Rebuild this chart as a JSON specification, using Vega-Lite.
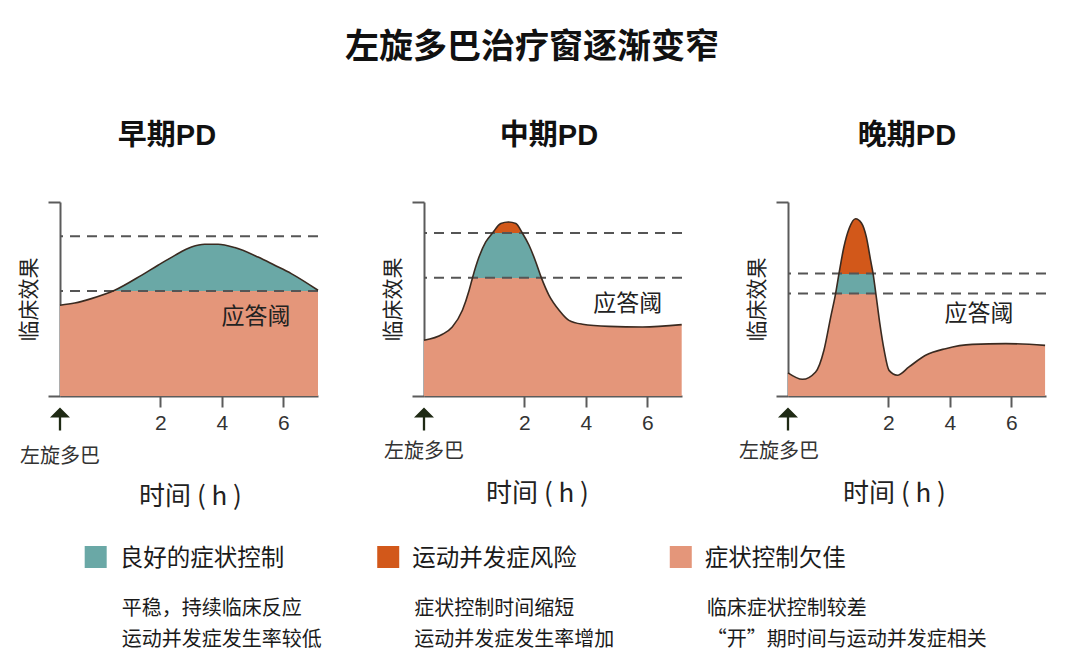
{
  "$schema": "https://vega.github.io/schema/vega-lite/v6.json",
  "padding": {"left": 18, "top": 31, "right": 10, "bottom": 5},
  "title": {"text": "左旋多巴治疗窗逐渐变窄", "fontSize": 34, "fontWeight": "bold", "font": "Noto Sans CJK SC", "color": "#111", "anchor": "start", "frame": "group", "dx": 285, "offset": 57},
  "datasets": {
    "curve_early": [
      {"t": -1.27, "effect": 4.68}, {"t": -0.79, "effect": 4.79}, {"t": -0.25, "effect": 5.02},
      {"t": 0.51, "effect": 5.45}, {"t": 1.38, "effect": 6.22}, {"t": 1.92, "effect": 6.74},
      {"t": 2.47, "effect": 7.25}, {"t": 3.01, "effect": 7.68}, {"t": 3.44, "effect": 7.82},
      {"t": 3.88, "effect": 7.82}, {"t": 4.42, "effect": 7.65}, {"t": 5.18, "effect": 7.16},
      {"t": 5.72, "effect": 6.74}, {"t": 6.26, "effect": 6.31}, {"t": 7.13, "effect": 5.45}
    ],
    "curve_mid": [
      {"t": -1.27, "effect": 2.87}, {"t": -0.67, "effect": 3.18}, {"t": -0.35, "effect": 3.56},
      {"t": -0.02, "effect": 4.42}, {"t": 0.2, "effect": 5.45}, {"t": 0.31, "effect": 6.1},
      {"t": 0.52, "effect": 7.16}, {"t": 0.74, "effect": 7.94}, {"t": 0.96, "effect": 8.4},
      {"t": 1.23, "effect": 8.89}, {"t": 1.48, "effect": 8.97}, {"t": 1.72, "effect": 8.89},
      {"t": 1.93, "effect": 8.4}, {"t": 2.15, "effect": 7.77}, {"t": 2.37, "effect": 6.91},
      {"t": 2.55, "effect": 6.1}, {"t": 2.8, "effect": 5.19}, {"t": 3.13, "effect": 4.42},
      {"t": 3.45, "effect": 3.9}, {"t": 3.89, "effect": 3.7}, {"t": 4.75, "effect": 3.59},
      {"t": 5.84, "effect": 3.56}, {"t": 7.12, "effect": 3.68}
    ],
    "curve_late": [
      {"t": -1.27, "effect": 1.19}, {"t": -0.8, "effect": 0.86}, {"t": -0.37, "effect": 1.24},
      {"t": -0.1, "effect": 2.36}, {"t": 0.12, "effect": 4.07}, {"t": 0.28, "effect": 5.28},
      {"t": 0.39, "effect": 6.31}, {"t": 0.55, "effect": 7.68}, {"t": 0.72, "effect": 8.63},
      {"t": 0.93, "effect": 9.14}, {"t": 1.12, "effect": 8.92}, {"t": 1.28, "effect": 8.2},
      {"t": 1.42, "effect": 6.99}, {"t": 1.5, "effect": 6.31}, {"t": 1.59, "effect": 5.28},
      {"t": 1.72, "effect": 3.73}, {"t": 1.86, "effect": 2.36}, {"t": 2.02, "effect": 1.32},
      {"t": 2.29, "effect": 1.07}, {"t": 2.67, "effect": 1.5}, {"t": 3.21, "effect": 2.1},
      {"t": 3.86, "effect": 2.44}, {"t": 4.73, "effect": 2.66}, {"t": 5.82, "effect": 2.7},
      {"t": 7.1, "effect": 2.61}
    ],
    "thr_early": [{"level": "上限", "effect": 8.23}, {"level": "应答阈", "effect": 5.41}],
    "thr_mid": [{"level": "上限", "effect": 8.4}, {"level": "应答阈", "effect": 6.1}],
    "thr_late": [{"level": "上限", "effect": 6.31}, {"level": "应答阈", "effect": 5.28}],
    "dose": [{"t": -1.27, "event": "左旋多巴"}],
    "legend": [
      {"item": "良好的症状控制", "note1": "平稳，持续临床反应", "note2": "运动并发症发生率较低"},
      {"item": "运动并发症风险", "note1": "症状控制时间缩短", "note2": "运动并发症发生率增加"},
      {"item": "症状控制欠佳", "note1": "临床症状控制较差", "note2": "“开”期时间与运动并发症相关"}
    ]
  },
  "vconcat": [
    {
      "bounds": "flush",
      "spacing": 106,
      "hconcat": [
        {
          "width": 258, "height": 194,
          "title": {"text": "早期PD", "dx": -22},
          "layer": [
            {
              "data": {"name": "curve_early"},
              "mark": {"type": "area", "interpolate": "monotone",
                "fill": {"gradient": "linear", "x1": 0, "y1": 0, "x2": 0, "y2": 1,
                  "stops": [{"offset": 0, "color": "#6aa8a6"}, {"offset": 0.308, "color": "#6aa8a6"}, {"offset": 0.308, "color": "#e4967a"}, {"offset": 1, "color": "#e4967a"}]}},
              "encoding": {
                "x": {"field": "t", "type": "quantitative", "title": "时间  (  h  )",
                  "scale": {"domain": [-1.27, 7.13], "nice": false, "zero": false},
                  "axis": {"values": [2, 4, 6], "tickSize": 11, "labelFont": "Liberation Sans", "labelFontSize": 21, "labelPadding": 5, "titleFontSize": 26, "titlePadding": 50, "titleX": 130}},
                "y": {"field": "effect", "type": "quantitative", "title": "临床效果",
                  "scale": {"domain": [0, 10], "nice": false},
                  "axis": {"values": [0, 10], "tickSize": 12, "labels": false, "titleFontSize": 21, "titlePadding": 8}}
              }
            },
            {
              "data": {"name": "thr_early"},
              "mark": {"type": "rule", "strokeDash": [10, 7], "strokeWidth": 2, "color": "#555"},
              "encoding": {"y": {"field": "effect", "type": "quantitative", "title": "临床效果"}}
            },
            {
              "data": {"name": "curve_early"},
              "mark": {"type": "line", "interpolate": "monotone", "color": "#3a2a20", "strokeWidth": 1.6},
              "encoding": {"x": {"field": "t", "type": "quantitative", "title": "时间  (  h  )"}, "y": {"field": "effect", "type": "quantitative", "title": "临床效果"}}
            },
            {
              "data": {"values": [{"label": "应答阈"}]},
              "mark": {"type": "text", "fontSize": 23, "color": "#222"},
              "encoding": {"x": {"datum": 5.11, "type": "quantitative"}, "y": {"datum": 4.07, "type": "quantitative"}, "text": {"field": "label"}}
            },
            {
              "data": {"name": "dose"},
              "mark": {"type": "point", "shape": "M0,-1L0.87,-0.13L0.1,-0.13L0.1,1L-0.1,1L-0.1,-0.13L-0.87,-0.13Z", "size": 529, "filled": true, "opacity": 1, "color": "#1f2a14", "strokeWidth": 0, "yOffset": 23},
              "encoding": {"x": {"field": "t", "type": "quantitative", "title": "时间  (  h  )"}, "y": {"datum": 0, "type": "quantitative"}}
            },
            {
              "data": {"name": "dose"},
              "mark": {"type": "text", "fontSize": 20, "dy": 61, "color": "#333"},
              "encoding": {"x": {"field": "t", "type": "quantitative", "title": "时间  (  h  )"}, "y": {"datum": 0, "type": "quantitative"}, "text": {"field": "event"}}
            }
          ]
        },
        {
          "width": 258, "height": 194,
          "title": {"text": "中期PD", "dx": -4},
          "layer": [
            {
              "data": {"name": "curve_mid"},
              "mark": {"type": "area", "interpolate": "monotone",
                "fill": {"gradient": "linear", "x1": 0, "y1": 0, "x2": 0, "y2": 1,
                  "stops": [{"offset": 0, "color": "#d2581a"}, {"offset": 0.0635, "color": "#d2581a"}, {"offset": 0.0635, "color": "#6aa8a6"}, {"offset": 0.32, "color": "#6aa8a6"}, {"offset": 0.32, "color": "#e4967a"}, {"offset": 1, "color": "#e4967a"}]}},
              "encoding": {
                "x": {"field": "t", "type": "quantitative", "title": "时间  (  h  )",
                  "scale": {"domain": [-1.27, 7.13], "nice": false, "zero": false},
                  "axis": {"values": [2, 4, 6], "tickSize": 11, "labelFont": "Liberation Sans", "labelFontSize": 21, "labelPadding": 5, "titleFontSize": 26, "titlePadding": 47, "titleX": 113}},
                "y": {"field": "effect", "type": "quantitative", "title": "临床效果",
                  "scale": {"domain": [0, 10], "nice": false},
                  "axis": {"values": [0, 10], "tickSize": 12, "labels": false, "titleFontSize": 21, "titlePadding": 8}}
              }
            },
            {
              "data": {"name": "thr_mid"},
              "mark": {"type": "rule", "strokeDash": [10, 7], "strokeWidth": 2, "color": "#555"},
              "encoding": {"y": {"field": "effect", "type": "quantitative", "title": "临床效果"}}
            },
            {
              "data": {"name": "curve_mid"},
              "mark": {"type": "line", "interpolate": "monotone", "color": "#3a2a20", "strokeWidth": 1.6},
              "encoding": {"x": {"field": "t", "type": "quantitative", "title": "时间  (  h  )"}, "y": {"field": "effect", "type": "quantitative", "title": "临床效果"}}
            },
            {
              "data": {"values": [{"label": "应答阈"}]},
              "mark": {"type": "text", "fontSize": 23, "color": "#222"},
              "encoding": {"x": {"datum": 5.36, "type": "quantitative"}, "y": {"datum": 4.73, "type": "quantitative"}, "text": {"field": "label"}}
            },
            {
              "data": {"name": "dose"},
              "mark": {"type": "point", "shape": "M0,-1L0.87,-0.13L0.1,-0.13L0.1,1L-0.1,1L-0.1,-0.13L-0.87,-0.13Z", "size": 529, "filled": true, "opacity": 1, "color": "#1f2a14", "strokeWidth": 0, "yOffset": 23},
              "encoding": {"x": {"field": "t", "type": "quantitative", "title": "时间  (  h  )"}, "y": {"datum": 0, "type": "quantitative"}}
            },
            {
              "data": {"name": "dose"},
              "mark": {"type": "text", "fontSize": 20, "dy": 56, "color": "#333"},
              "encoding": {"x": {"field": "t", "type": "quantitative", "title": "时间  (  h  )"}, "y": {"datum": 0, "type": "quantitative"}, "text": {"field": "event"}}
            }
          ]
        },
        {
          "width": 258, "height": 194,
          "title": {"text": "晚期PD", "dx": -10},
          "layer": [
            {
              "data": {"name": "curve_late"},
              "mark": {"type": "area", "interpolate": "monotone",
                "fill": {"gradient": "linear", "x1": 0, "y1": 0, "x2": 0, "y2": 1,
                  "stops": [{"offset": 0, "color": "#d2581a"}, {"offset": 0.3096, "color": "#d2581a"}, {"offset": 0.3096, "color": "#6aa8a6"}, {"offset": 0.4223, "color": "#6aa8a6"}, {"offset": 0.4223, "color": "#e4967a"}, {"offset": 1, "color": "#e4967a"}]}},
              "encoding": {
                "x": {"field": "t", "type": "quantitative", "title": "时间  (  h  )",
                  "scale": {"domain": [-1.27, 7.13], "nice": false, "zero": false},
                  "axis": {"values": [2, 4, 6], "tickSize": 11, "labelFont": "Liberation Sans", "labelFontSize": 21, "labelPadding": 5, "titleFontSize": 26, "titlePadding": 47, "titleX": 106}},
                "y": {"field": "effect", "type": "quantitative", "title": "临床效果",
                  "scale": {"domain": [0, 10], "nice": false},
                  "axis": {"values": [0, 10], "tickSize": 12, "labels": false, "titleFontSize": 21, "titlePadding": 8}}
              }
            },
            {
              "data": {"name": "thr_late"},
              "mark": {"type": "rule", "strokeDash": [10, 7], "strokeWidth": 2, "color": "#555"},
              "encoding": {"y": {"field": "effect", "type": "quantitative", "title": "临床效果"}}
            },
            {
              "data": {"name": "curve_late"},
              "mark": {"type": "line", "interpolate": "monotone", "color": "#3a2a20", "strokeWidth": 1.6},
              "encoding": {"x": {"field": "t", "type": "quantitative", "title": "时间  (  h  )"}, "y": {"field": "effect", "type": "quantitative", "title": "临床效果"}}
            },
            {
              "data": {"values": [{"label": "应答阈"}]},
              "mark": {"type": "text", "fontSize": 23, "color": "#222"},
              "encoding": {"x": {"datum": 4.95, "type": "quantitative"}, "y": {"datum": 4.21, "type": "quantitative"}, "text": {"field": "label"}}
            },
            {
              "data": {"name": "dose"},
              "mark": {"type": "point", "shape": "M0,-1L0.87,-0.13L0.1,-0.13L0.1,1L-0.1,1L-0.1,-0.13L-0.87,-0.13Z", "size": 529, "filled": true, "opacity": 1, "color": "#1f2a14", "strokeWidth": 0, "yOffset": 23},
              "encoding": {"x": {"field": "t", "type": "quantitative", "title": "时间  (  h  )"}, "y": {"datum": 0, "type": "quantitative"}}
            },
            {
              "data": {"name": "dose"},
              "mark": {"type": "text", "fontSize": 20, "dy": 56, "dx": -9, "color": "#333"},
              "encoding": {"x": {"field": "t", "type": "quantitative", "title": "时间  (  h  )"}, "y": {"datum": 0, "type": "quantitative"}, "text": {"field": "event"}}
            }
          ]
        }
      ]
    },
    {
      "width": 927, "height": 100,
      "data": {"name": "legend"},
      "encoding": {
        "x": {"field": "item", "type": "nominal", "sort": null, "bandPosition": 0,
          "scale": {"type": "band", "domain": ["良好的症状控制", "运动并发症风险", "症状控制欠佳"], "paddingInner": 0, "paddingOuter": 0.0844},
          "axis": null}
      },
      "layer": [
        {
          "mark": {"type": "point", "shape": "square", "size": 484, "filled": true, "opacity": 1, "strokeWidth": 0, "xOffset": 11, "yOffset": -12},
          "encoding": {"color": {"field": "item", "type": "nominal", "scale": {"domain": ["良好的症状控制", "运动并发症风险", "症状控制欠佳"], "range": ["#6aa8a6", "#d2581a", "#e4967a"]}, "legend": null}}
        },
        {
          "mark": {"type": "text", "align": "left", "baseline": "middle", "fontSize": 23.5, "dx": 35, "dy": -10, "color": "#1a1a1a"},
          "encoding": {"text": {"field": "item"}}
        },
        {
          "mark": {"type": "text", "align": "left", "baseline": "middle", "fontSize": 20, "dx": 37, "dy": 40, "color": "#1a1a1a"},
          "encoding": {"text": {"field": "note1"}}
        },
        {
          "mark": {"type": "text", "align": "left", "baseline": "middle", "fontSize": 20, "dx": 37, "dy": 71, "color": "#1a1a1a"},
          "encoding": {"text": {"field": "note2"}}
        }
      ]
    }
  ],
  "spacing": 10,
  "config": {
    "font": "Noto Sans CJK SC",
    "view": {"stroke": null},
    "axis": {"grid": false, "domainColor": "#5b5b5b", "domainWidth": 2, "tickColor": "#5b5b5b", "tickWidth": 2, "labelColor": "#333", "titleColor": "#222", "titleFontWeight": "normal", "titleFont": "Noto Sans CJK SC"},
    "title": {"fontSize": 29, "fontWeight": "bold", "font": "Liberation Sans, Noto Sans CJK SC", "color": "#111", "anchor": "middle", "frame": "group", "offset": 50}
  }
}
